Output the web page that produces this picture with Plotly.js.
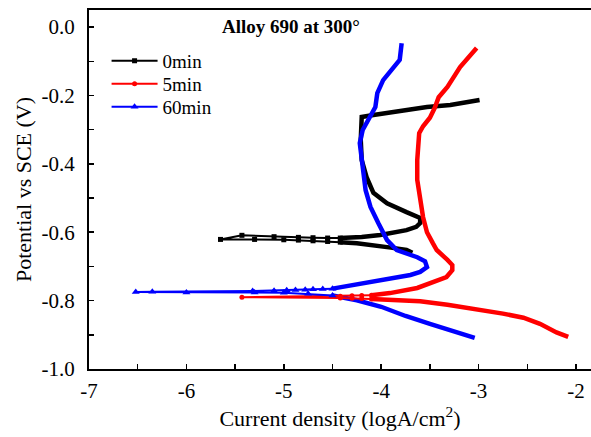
<!DOCTYPE html>
<html>
<head>
<meta charset="utf-8">
<script src="https://cdn.plot.ly/plotly-3.0.1.min.js"></script>
<style>html,body{margin:0;padding:0;background:#fff;font-family:"Liberation Serif";}#chart{width:591px;height:437px;}</style>
</head>
<body>
<div id="chart"></div>
<script>
// ---- Series names ----
const seriesNames = ["0min", "5min", "60min"];

// ---- 0min (black): sparse near-Ecorr part (markers) ----
const min0SparseX = [-4.42, -4.55, -4.7, -4.85, -5.0, -5.3, -5.65, -5.43, -5.1, -4.85, -4.7, -4.55, -4.42];
const min0SparseY = [-0.629, -0.627, -0.625, -0.623, -0.622, -0.621, -0.621, -0.609, -0.613, -0.615, -0.616, -0.617, -0.617];
// dense part: cathodic branch (lower) then anodic branch (upper)
const min0CathX = [-3.68, -3.74, -3.9, -4.08, -4.25, -4.42];
const min0CathY = [-0.66, -0.652, -0.645, -0.637, -0.632, -0.629];
const min0AnodX = [-4.42, -4.2, -4.01, -3.86, -3.74, -3.64, -3.6, -3.6, -3.67, -3.74, -3.94, -4.08, -4.15, -4.2, -4.21, -4.2, -4.08, -3.9, -3.74, -3.53, -3.29, -2.99];
const min0AnodY = [-0.617, -0.614, -0.608, -0.602, -0.594, -0.584, -0.573, -0.558, -0.548, -0.541, -0.515, -0.485, -0.439, -0.389, -0.33, -0.263, -0.257, -0.25, -0.243, -0.234, -0.228, -0.213];

// ---- 5min (red) ----
const min5SparseX = [-4.1, -4.2, -4.3, -4.42, -5.43, -4.42, -4.3, -4.2, -4.1];
const min5SparseY = [-0.795, -0.794, -0.793, -0.792, -0.79, -0.787, -0.786, -0.785, -0.784];
const min5CathX = [-4.1, -3.8, -3.6, -3.32, -3.0, -2.75, -2.54, -2.37, -2.2, -2.08];
const min5CathY = [-0.795, -0.798, -0.802, -0.812, -0.826, -0.838, -0.85, -0.868, -0.893, -0.906];
const min5AnodX = [-4.1, -3.91, -3.63, -3.47, -3.33, -3.27, -3.27, -3.32, -3.43, -3.47, -3.53, -3.57, -3.6, -3.63, -3.63, -3.62, -3.61, -3.57, -3.5, -3.45, -3.41, -3.32, -3.19, -3.02];
const min5AnodY = [-0.784, -0.778, -0.763, -0.746, -0.731, -0.711, -0.696, -0.681, -0.652, -0.632, -0.6, -0.556, -0.506, -0.447, -0.389, -0.36, -0.31, -0.29, -0.265, -0.236, -0.205, -0.175, -0.117, -0.061];

// ---- 60min (blue) ----
const min60SparseX = [-4.5, -4.75, -5.0, -5.3, -6.0, -6.52, -6.35, -5.32, -5.1, -4.97, -4.88, -4.78, -4.7, -4.6, -4.5];
const min60SparseY = [-0.785, -0.78, -0.777, -0.776, -0.776, -0.775, -0.774, -0.772, -0.771, -0.77, -0.769, -0.768, -0.767, -0.766, -0.765];
const min60CathX = [-4.5, -4.25, -4.0, -3.75, -3.5, -3.25, -3.04];
const min60CathY = [-0.785, -0.799, -0.818, -0.845, -0.868, -0.892, -0.909];
const min60AnodX = [-4.5, -4.25, -3.95, -3.7, -3.6, -3.53, -3.55, -3.63, -3.84, -3.94, -4.03, -4.11, -4.16, -4.19, -4.22, -4.22, -4.19, -4.11, -4.06, -4.04, -3.98, -3.81, -3.79];
const min60AnodY = [-0.765, -0.752, -0.737, -0.725, -0.716, -0.702, -0.685, -0.673, -0.652, -0.623, -0.573, -0.526, -0.477, -0.418, -0.36, -0.339, -0.301, -0.263, -0.234, -0.193, -0.155, -0.096, -0.047];

// ---- Axis ticks ----
const xTickVals = [-7, -6, -5, -4, -3, -2];
const xTickText = ["-7", "-6", "-5", "-4", "-3", "-2"];
const yTickVals = [0.0, -0.2, -0.4, -0.6, -0.8, -1.0];
const yTickText = ["0.0", "-0.2", "-0.4", "-0.6", "-0.8", "-1.0"];

const colors = ["#000000", "#ff0000", "#0000ff"];
const symbols = ["square", "circle", "triangle-up"];
const legendIds = ["legend", "legend2", "legend3"];

function dense(cx, cy, ax, ay, c) {
  return {
    x: cx.concat([null], ax), y: cy.concat([null], ay),
    mode: "lines", type: "scatter", showlegend: false, hoverinfo: "skip",
    line: {color: c, width: 4.5}, connectgaps: false
  };
}
function sparse(x, y, name, c, sym, lg) {
  return {
    x: x, y: y, name: name, mode: "lines+markers", type: "scatter", legend: lg,
    line: {color: c, width: 2},
    marker: {color: c, size: sym === "triangle-up" ? 7 : 5, symbol: sym}
  };
}

const data = [
  dense(min0CathX, min0CathY, min0AnodX, min0AnodY, colors[0]),
  dense(min5CathX, min5CathY, min5AnodX, min5AnodY, colors[1]),
  dense(min60CathX, min60CathY, min60AnodX, min60AnodY, colors[2]),
  sparse(min0SparseX, min0SparseY, seriesNames[0], colors[0], symbols[0], legendIds[0]),
  sparse(min5SparseX, min5SparseY, seriesNames[1], colors[1], symbols[1], legendIds[1]),
  sparse(min60SparseX, min60SparseY, seriesNames[2], colors[2], symbols[2], legendIds[2])
];

const fontFam = "Liberation Serif";
function legendBox(y) {
  return {x: 0.035, y: y, xanchor: "left", yanchor: "middle", bgcolor: "rgba(0,0,0,0)",
          font: {family: fontFam, size: 19, color: "#000"}, itemwidth: 46, borderwidth: 0};
}
const layout = {
  width: 591, height: 437,
  margin: {l: 89, r: 0, t: 10, b: 68},
  paper_bgcolor: "#fff", plot_bgcolor: "#fff",
  font: {family: fontFam, color: "#000", size: 20},
  showlegend: true,
  legend: legendBox(0.858),
  legend2: legendBox(0.794),
  legend3: legendBox(0.730),
  xaxis: {
    range: [-7, -1.846], showgrid: false, zeroline: false,
    showline: true, linecolor: "#000", linewidth: 2, mirror: true,
    ticks: "inside", ticklen: 5, tickwidth: 1.5, tickcolor: "#000",
    tickvals: xTickVals, ticktext: xTickText, ticklabelstandoff: 2,
    minor: {ticks: "inside", ticklen: 5, tickwidth: 1.5, dtick: 0.5, tick0: -7, tickcolor: "#000"},
    tickfont: {size: 21, family: fontFam},
    title: {text: "Current density (logA/cm<sup>2</sup>)", font: {size: 22, family: fontFam}, standoff: 8}
  },
  yaxis: {
    range: [-1.0, 0.05], showgrid: false, zeroline: false,
    showline: true, linecolor: "#000", linewidth: 2, mirror: false,
    ticks: "inside", ticklen: 5, tickwidth: 1.5, tickcolor: "#000",
    tickvals: yTickVals, ticktext: yTickText, ticklabelstandoff: 8,
    minor: {ticks: "inside", ticklen: 5, tickwidth: 1.5, dtick: 0.1, tick0: 0, tickcolor: "#000"},
    tickfont: {size: 21, family: fontFam},
    title: {text: "Potential vs SCE (V)", font: {size: 22, family: fontFam}, standoff: 4}
  },
  annotations: [{
    text: "<b>Alloy 690 at 300°</b>", xref: "paper", yref: "paper",
    x: 0.26, y: 0.99, xanchor: "left", yanchor: "top", showarrow: false,
    font: {family: fontFam, size: 19, color: "#000"}
  }]
};

Plotly.newPlot("chart", data, layout, {staticPlot: true, displayModeBar: false});
</script>
</body>
</html>
